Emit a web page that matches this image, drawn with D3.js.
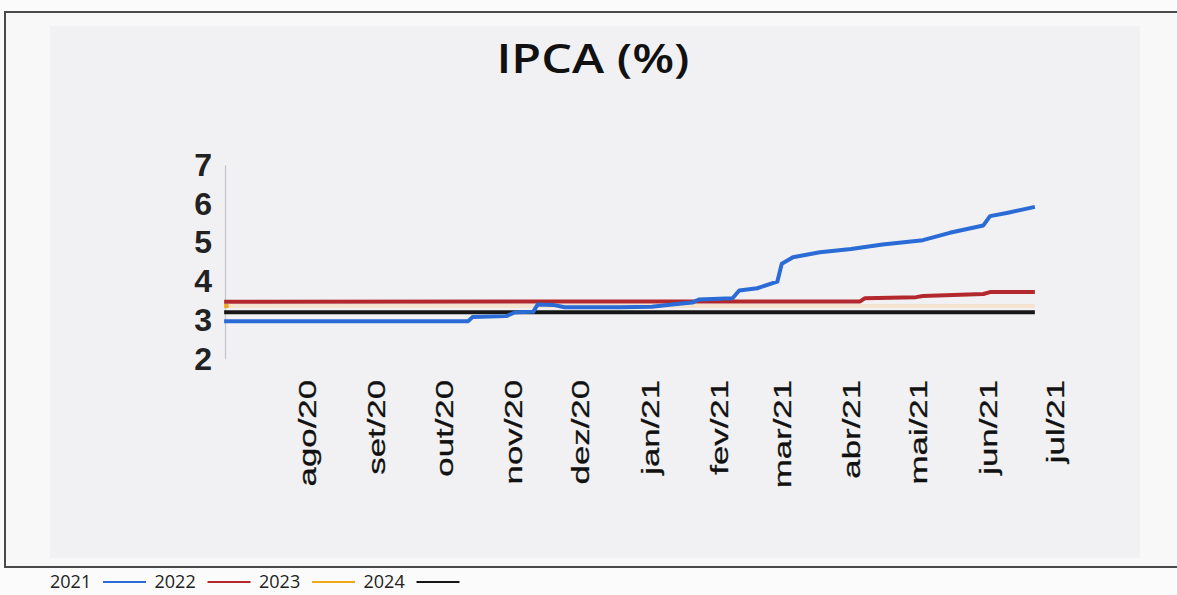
<!DOCTYPE html>
<meta charset="utf-8">

<style>
body {
  margin: 0;
  background: #fbfbfb;
}

.title {
  font: 600 40px "Open Sans", sans-serif;
  fill: #111;
}

.axis--y text {
  font: bold 32px "Liberation Sans", Arial, sans-serif;
  fill: #222;
}

.axis--x text {
  font: 24px "Liberation Sans", Arial, sans-serif;
  fill: #111;
  stroke: #111;
  stroke-width: 0.3px;
}

.line {
  fill: none;
  stroke-width: 4px;
  stroke-linejoin: round;
}

.legend text {
  font: 18px "Open Sans", sans-serif;
  fill: #222;
}
</style>

<svg width="1177" height="595"></svg>
<script src="https://d3js.org/d3.v7.min.js"></script>

<script>
// focus expectations
var seriesNames = ["2021", "2022", "2023", "2024"];
var seriesColors = ["#2a6bd6", "#b3282d", "#f2a81d", "#161616"];

var dates2021 = ["2020-06-25", "2020-10-12", "2020-10-14", "2020-10-29", "2020-11-02", "2020-11-10",
                 "2020-11-12", "2020-11-19", "2020-11-24", "2020-12-19", "2021-01-02", "2021-01-11",
                 "2021-01-20", "2021-01-23", "2021-02-07", "2021-02-10", "2021-02-18", "2021-02-27",
                 "2021-03-01", "2021-03-06", "2021-03-18", "2021-04-01", "2021-04-15", "2021-05-03",
                 "2021-05-15", "2021-05-30", "2021-06-02", "2021-06-10", "2021-06-22"];
var ipca2021 = [2.97, 2.97, 3.08, 3.10, 3.20, 3.21,
                3.40, 3.39, 3.33, 3.33, 3.34, 3.40,
                3.45, 3.53, 3.56, 3.76, 3.82, 3.99,
                4.45, 4.62, 4.75, 4.83, 4.95, 5.06,
                5.25, 5.44, 5.68, 5.77, 5.92];

var dates2022 = ["2020-06-25", "2021-04-05", "2021-04-07", "2021-04-30", "2021-05-03",
                 "2021-05-30", "2021-06-02", "2021-06-22"];
var ipca2022 = [3.47, 3.48, 3.56, 3.59, 3.62, 3.67, 3.72, 3.72];

var dates2023 = ["2020-06-25", "2021-06-22"];
var ipca2023 = [3.36, 3.36];

var dates2024 = ["2020-06-25", "2021-06-22"];
var ipca2024 = [3.20, 3.20];

var monthLabels = ["ago/20", "set/20", "out/20", "nov/20", "dez/20", "jan/21",
                   "fev/21", "mar/21", "abr/21", "mai/21", "jun/21", "jul/21"];
var monthDates = ["2020-08-01", "2020-09-01", "2020-10-01", "2020-11-01", "2020-12-01", "2021-01-01",
                  "2021-02-01", "2021-03-01", "2021-04-01", "2021-05-01", "2021-06-01", "2021-07-01"];
var yTicks = [2, 3, 4, 5, 6, 7];

var parse = d3.timeParse("%Y-%m-%d");

var svg = d3.select("svg");

// scanned page: frame and grey plot card
svg.append("rect")
    .attr("x", 5).attr("y", 12)
    .attr("width", 1185).attr("height", 555)
    .attr("fill", "#f8f8f8")
    .attr("stroke", "#4a4a4a")
    .attr("stroke-width", 2);

svg.append("rect")
    .attr("x", 50).attr("y", 26)
    .attr("width", 1090).attr("height", 532)
    .attr("fill", "#f1f1f4");

var x = d3.scaleTime()
    .domain([parse("2020-08-01"), parse("2021-07-01")])
    .range([307, 1055]);

var y = d3.scaleLinear()
    .domain([2, 7])
    .range([358.75, 165]);

svg.append("text")
    .attr("class", "title")
    .attr("x", 593)
    .attr("y", 73)
    .attr("text-anchor", "middle")
    .attr("textLength", 193)
    .attr("lengthAdjust", "spacingAndGlyphs")
    .text("IPCA (%)");

// y axis
var yAxis = svg.append("g")
    .attr("class", "axis axis--y")
    .attr("transform", "translate(225,0)")
    .call(d3.axisLeft(y).tickValues(yTicks).tickSize(0).tickPadding(13).tickFormat(d3.format("d")));
yAxis.select(".domain")
    .attr("stroke", "#c4c4c8")
    .attr("stroke-width", 1.2);

// x axis, labels only
var xAxis = svg.append("g")
    .attr("class", "axis axis--x")
    .attr("transform", "translate(0,380)")
    .call(d3.axisBottom(x)
        .tickValues(monthDates.map(parse))
        .tickSize(0)
        .tickFormat(function(d, i) { return monthLabels[i]; }));
xAxis.select(".domain").remove();
xAxis.selectAll("text")
    .attr("x", 0)
    .attr("y", 0)
    .attr("dy", "0.35em")
    .attr("text-anchor", "end")
    .attr("transform", "rotate(-90) scale(1.45,1)");

// lines
var line = d3.line()
    .x(function(d) { return x(d.date); })
    .y(function(d) { return y(d.value); });

function toPoints(ds, vs) {
    return ds.map(function(d, i) { return {date: parse(d), value: vs[i]}; });
}

var series = [
    {id: "2023", values: toPoints(dates2023, ipca2023), color: "#f4e4cf"},
    {id: "2022", values: toPoints(dates2022, ipca2022), color: seriesColors[1]},
    {id: "2024", values: toPoints(dates2024, ipca2024), color: seriesColors[3]},
    {id: "2021", values: toPoints(dates2021, ipca2021), color: seriesColors[0]}
];

svg.selectAll(".line")
    .data(series)
  .enter().append("path")
    .attr("class", "line")
    .attr("d", function(d) { return line(d.values); })
    .style("stroke", function(d) { return d.color; });

// small orange start visible at the left edge
svg.append("path")
    .attr("class", "line")
    .attr("d", line(toPoints(dates2023.slice(0, 1).concat(["2020-06-27"]), ipca2023)))
    .style("stroke", seriesColors[2]);

// legend below the frame
var legend = svg.append("g")
    .attr("class", "legend")
    .attr("transform", "translate(50,582)");

var item = legend.selectAll("g")
    .data(seriesNames)
  .enter().append("g")
    .attr("transform", function(d, i) { return "translate(" + (i * 104.5) + ",0)"; });

item.append("text")
    .attr("dy", "0.35em")
    .text(function(d) { return d; });

item.append("line")
    .attr("x1", 53).attr("x2", 96)
    .attr("y1", 0).attr("y2", 0)
    .attr("stroke", function(d, i) { return seriesColors[i]; })
    .attr("stroke-width", 2);
</script>
